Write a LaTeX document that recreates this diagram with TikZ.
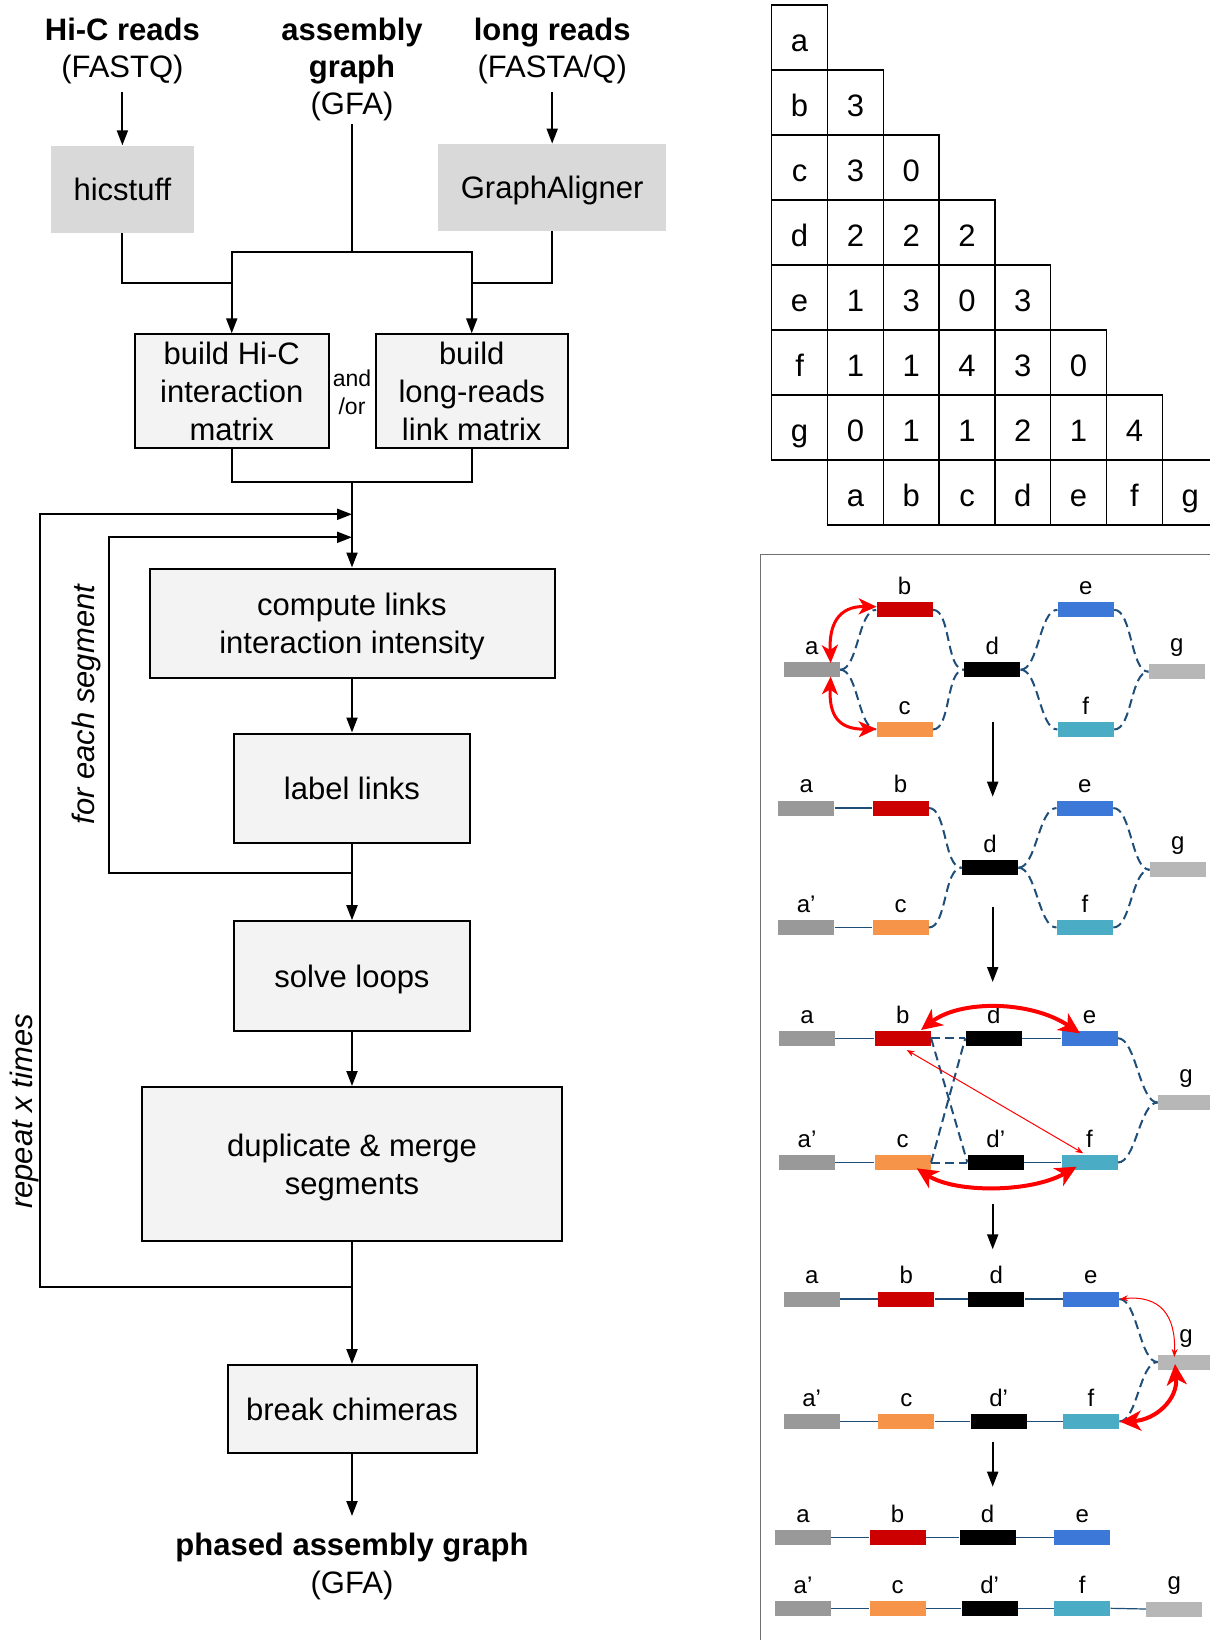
\documentclass[tikz,border=0pt]{standalone}
\usepackage{fontspec}
\setmainfont{Liberation Sans}
\usetikzlibrary{arrows.meta}
\definecolor{boxfill}{HTML}{F3F3F3}
\definecolor{toolfill}{HTML}{D9D9D9}
\definecolor{navy}{HTML}{1F4E79}
\definecolor{sa}{HTML}{999999}
\definecolor{sb}{HTML}{CC0000}
\definecolor{sc}{HTML}{F6954A}
\definecolor{sd}{HTML}{000000}
\definecolor{se}{HTML}{3C78D8}
\definecolor{sf}{HTML}{4BACC6}
\definecolor{sg}{HTML}{B7B7B7}
\definecolor{panelline}{HTML}{707070}
\begin{document}
\begin{tikzpicture}[x=0.5pt,y=-0.5pt,
  font=\fontsize{15.5}{19}\selectfont,
  proc/.style={draw, line width=1pt, fill=boxfill, align=center, inner sep=0pt, text depth=0pt},
  tool/.style={fill=toolfill, align=center, inner sep=0pt, text depth=0pt},
  txt/.style={anchor=base, inner sep=0pt},
  boldtxt/.style={anchor=base, inner sep=0pt, font=\fontsize{15.5}{19}\selectfont\bfseries},
  conn/.style={line width=1pt},
  arr/.style={line width=1pt, -{Triangle[length=7.5pt,width=5.5pt]}},
  cell/.style={draw, line width=0.65pt, minimum width=27.9pt, minimum height=32.5pt, inner sep=0pt, text height=13.5pt, text depth=0pt},
  bar/.style={minimum width=28pt, minimum height=7.5pt, inner sep=0pt, label distance=0pt},
  lab/.style={font=\fontsize{12}{14}\selectfont, inner sep=0pt, yshift=3.3pt},
  dlink/.style={navy, line width=1pt, dash pattern=on 4.5pt off 2.5pt},
  slink/.style={navy, line width=0.6pt},
  rthick/.style={red, line width=2pt, {Stealth[length=10.5pt,width=10pt,inset=3pt]}-{Stealth[length=10.5pt,width=10pt,inset=3pt]}},
  rmid/.style={red, line width=1.5pt, {Stealth[length=9pt,width=8pt,inset=2.5pt]}-{Stealth[length=9pt,width=8pt,inset=2.5pt]}},
  rthin/.style={red, line width=0.5pt, {Stealth[length=4pt,width=3pt]}-{Stealth[length=4pt,width=3pt]}},
]
\useasboundingbox (0,0) rectangle (1210,1640);
\clip (0,0) rectangle (1210,1640);

% ---------------- flowchart ----------------
\node[boldtxt] (hr1) at (122.4,40.7) {Hi-C reads};
\node[txt] (hr2) at (122.4,77.5) {(FASTQ)};
\node[boldtxt] (as1) at (352,40.7) {assembly};
\node[boldtxt] (as2) at (352,77.5) {graph};
\node[txt] (as3) at (352,114.3) {(GFA)};
\node[boldtxt] (lr1) at (552.2,40.7) {long reads};
\node[txt] (lr2) at (552.2,77.5) {(FASTA/Q)};

\node[tool, minimum width=71.15pt, minimum height=43.5pt] (hic) at (122.4,189.2) {hicstuff};
\node[tool, minimum width=114pt, minimum height=43.35pt] (ga) at (552.2,187.35) {GraphAligner};
\node[proc, minimum width=96.75pt, minimum height=57pt] (bhic) at (231.75,391.3) {build Hi-C\\interaction\\matrix};
\node[proc, minimum width=96.25pt, minimum height=57pt] (blr) at (471.75,391.3) {build\\long-reads\\link matrix};
\node[font=\fontsize{11.5}{14}\selectfont, align=center, inner sep=0pt] (andor) at (352,392.5) {and\\/or};

\coordinate (hr0) at (122.4,91.7);
\coordinate (lr0) at (552.2,91.7);
\coordinate (as0) at (352,124);
\coordinate (aj) at (352,252);
\coordinate (hj) at (231.75,283.3);
\coordinate (gj) at (471.75,283.3);
\draw[arr] (hr0) -- (hic.north);
\draw[arr] (lr0) -- (ga.north);
\draw[conn] (as0) -- (aj);
\draw[arr] (aj) -| (bhic.north);
\draw[arr] (aj) -| (blr.north);
\draw[conn] (hic.south) |- (hj);
\draw[conn] (ga.south) |- (gj);

\node[proc, minimum width=202.5pt, minimum height=54.75pt] (comp) at (352,623.25) {compute links\\interaction intensity};
\node[proc, minimum width=118pt, minimum height=54.75pt] (lab) at (352,788.25) {label links};
\node[proc, minimum width=118pt, minimum height=54.8pt] (solve) at (352,976) {solve loops};
\node[proc, minimum width=210pt, minimum height=77pt] (dup) at (352,1164) {duplicate \& merge\\segments};
\node[proc, minimum width=124.5pt, minimum height=43.8pt] (brk) at (352,1408.8) {break chimeras};

\coordinate (mj) at (352,481.5);
\draw[conn] (bhic.south) |- (mj) -| (blr.south);
\draw[arr] (mj) -- (comp.north);
\draw[arr] (comp.south) -- (lab.north);
\coordinate (ij) at (352,873);
\draw[conn] (lab.south) -- (ij);
\draw[arr] (ij) -- (solve.north);
\draw[arr] (solve.south) -- (dup.north);
\coordinate (oj) at (352,1286.6);
\draw[conn] (dup.south) -- (oj);
\draw[arr] (oj) -- (brk.north);
\coordinate (outp) at (352,1516);
\draw[arr] (brk.south) -- (outp);
\node[boldtxt] (ph1) at (352,1555.7) {phased assembly graph};
\node[txt] (ph2) at (352,1593.4) {(GFA)};

\coordinate (ot) at (352,514.3);
\coordinate (it) at (352,537.3);
\coordinate (oc1) at (40,1286.6);
\coordinate (oc2) at (40,514.3);
\coordinate (ic1) at (108.5,873);
\coordinate (ic2) at (108.5,537.3);
\draw[arr] (oj) -- (oc1) -- (oc2) -- (ot);
\draw[arr] (ij) -- (ic1) -- (ic2) -- (it);
\node[rotate=90, font=\fontsize{15.5}{19}\selectfont\itshape, inner sep=0pt] (fes) at (86,704.6) {for each segment};
\node[rotate=90, font=\fontsize{15.5}{19}\selectfont\itshape, inner sep=0pt] (rxt) at (24,1111.5) {repeat x times};

% ---------------- matrix ----------------
\foreach \r/\lst in {0/{a},1/{b,3},2/{c,3,0},3/{d,2,2,2},4/{e,1,3,0,3},5/{f,1,1,4,3,0},6/{g,0,1,1,2,1,4}}{
  \foreach \v [count=\j from 0] in \lst {
    \node[cell] (m\r\j) at ({799.6+55.8*\j},{37.5+65*\r}) {\v};
  }
}
\foreach \v [count=\j from 1] in {a,b,c,d,e,f,g}{
  \node[cell] (n\j) at ({799.6+55.8*\j},492.5) {\v};
}

% ---------------- graph panel ----------------
\coordinate (pb1) at (760.5,1660);
\coordinate (pb2) at (760.5,554.3);
\coordinate (pb3) at (1230,554.3);
\draw[panelline, line width=0.8pt] (pb1) -- (pb2) -- (pb3);

\coordinate (k1a) at (992.7,722.3);  \coordinate (k1b) at (992.7,796.7);
\coordinate (k2a) at (992.7,907);    \coordinate (k2b) at (992.7,982);
\coordinate (k3a) at (992.7,1204);   \coordinate (k3b) at (992.7,1249.3);
\coordinate (k4a) at (992.7,1441.7); \coordinate (k4b) at (992.7,1486.7);
\draw[arr] (k1a) -- (k1b);
\draw[arr] (k2a) -- (k2b);
\draw[arr] (k3a) -- (k3b);
\draw[arr] (k4a) -- (k4b);

% panel 1
\node[bar,fill=sa,label={[lab]above:a}] (p1a) at (811.8,669.7) {};
\node[bar,fill=sb,label={[lab]above:b}] (p1b) at (904.5,609.8) {};
\node[bar,fill=sc,label={[lab]above:c}] (p1c) at (904.5,729.5) {};
\node[bar,fill=sd,label={[lab]above:d}] (p1d) at (992.2,669.7) {};
\node[bar,fill=se,label={[lab]above:e}] (p1e) at (1085.8,609.8) {};
\node[bar,fill=sf,label={[lab]above:f}] (p1f) at (1085.8,729.5) {};
\node[bar,fill=sg,label={[lab]above:g}] (p1g) at (1176.8,671.7) {};
\draw[dlink] (p1a.east) .. controls +(18,0) and +(-18,0) .. (p1b.west);
\draw[dlink] (p1a.east) .. controls +(18,0) and +(-18,0) .. (p1c.west);
\draw[dlink] (p1b.east) .. controls +(18,0) and +(-18,0) .. (p1d.west);
\draw[dlink] (p1c.east) .. controls +(18,0) and +(-18,0) .. (p1d.west);
\draw[dlink] (p1d.east) .. controls +(18,0) and +(-18,0) .. (p1e.west);
\draw[dlink] (p1d.east) .. controls +(18,0) and +(-18,0) .. (p1f.west);
\draw[dlink] (p1e.east) .. controls +(18,0) and +(-18,0) .. (p1g.west);
\draw[dlink] (p1f.east) .. controls +(18,0) and +(-18,0) .. (p1g.west);
\coordinate (r1a) at (830.7,663);
\coordinate (r1b) at (876.7,606.7);
\coordinate (r1c) at (830.7,676.5);
\coordinate (r1d) at (876.7,729);
\draw[rmid] (r1a) .. controls (829,625) and (838,606) .. (r1b);
\draw[rmid] (r1c) .. controls (829,715) and (838,729.5) .. (r1d);

% panel 2
\node[bar,fill=sa,label={[lab]above:a}] (p2a) at (806.2,808) {};
\node[bar,fill=sb,label={[lab]above:b}] (p2b) at (900.5,808) {};
\node[bar,fill=sd,label={[lab]above:d}] (p2d) at (990,867.7) {};
\node[bar,fill=se,label={[lab]above:e}] (p2e) at (1084.9,808) {};
\node[bar,fill=sg,label={[lab]above:g}] (p2g) at (1177.9,869.7) {};
\node[bar,fill=sa,label={[lab]above:a’}] (p2a2) at (806.2,927.5) {};
\node[bar,fill=sc,label={[lab]above:c}] (p2c) at (900.5,927.5) {};
\node[bar,fill=sf,label={[lab]above:f}] (p2f) at (1084.9,927.5) {};
\draw[slink] (p2a.east) -- (p2b.west);
\draw[slink] (p2a2.east) -- (p2c.west);
\draw[dlink] (p2b.east) .. controls +(18,0) and +(-18,0) .. (p2d.west);
\draw[dlink] (p2c.east) .. controls +(18,0) and +(-18,0) .. (p2d.west);
\draw[dlink] (p2d.east) .. controls +(18,0) and +(-18,0) .. (p2e.west);
\draw[dlink] (p2d.east) .. controls +(18,0) and +(-18,0) .. (p2f.west);
\draw[dlink] (p2e.east) .. controls +(18,0) and +(-18,0) .. (p2g.west);
\draw[dlink] (p2f.east) .. controls +(18,0) and +(-18,0) .. (p2g.west);

% panel 3
\node[bar,fill=sa,label={[lab]above:a}] (p3a) at (807,1038.2) {};
\node[bar,fill=sb,label={[lab]above:b}] (p3b) at (902.7,1038.2) {};
\node[bar,fill=sd,label={[lab]above:d}] (p3d) at (993.7,1038.2) {};
\node[bar,fill=se,label={[lab]above:e}] (p3e) at (1089.5,1038.2) {};
\node[bar,fill=sg,label={[lab]above:g}] (p3g) at (1186,1102.5) {};
\node[bar,fill=sa,label={[lab]above:a’}] (p3a2) at (807,1162.5) {};
\node[bar,fill=sc,label={[lab]above:c}] (p3c) at (902.7,1162.5) {};
\node[bar,fill=sd,label={[lab]above:d’}] (p3d2) at (995.8,1162.5) {};
\node[bar,fill=sf,label={[lab]above:f}] (p3f) at (1089.5,1162.5) {};
\draw[slink] (p3a.east) -- (p3b.west);
\draw[slink] (p3d.east) -- (p3e.west);
\draw[slink] (p3a2.east) -- (p3c.west);
\draw[slink] (p3d2.east) -- (p3f.west);
\draw[dlink] (p3b.east) -- (p3d.west);
\draw[dlink] (p3b.east) -- (p3d2.west);
\draw[dlink] (p3c.east) -- (p3d.west);
\draw[dlink] (p3c.east) -- (p3d2.west);
\draw[dlink] (p3e.east) .. controls +(18,0) and +(-18,0) .. (p3g.west);
\draw[dlink] (p3f.east) .. controls +(18,0) and +(-18,0) .. (p3g.west);
\coordinate (r3a) at (921,1030);
\coordinate (r3b) at (1080,1033.3);
\coordinate (r3c) at (916.7,1168.3);
\coordinate (r3d) at (1076.7,1166.7);
\coordinate (r3e) at (906.7,1050);
\coordinate (r3f) at (1083.3,1153.3);
\draw[rthick] (r3a) .. controls (960,1000) and (1030,1000) .. (r3b);
\draw[rthick] (r3c) .. controls (955,1193) and (1030,1193) .. (r3d);
\draw[rthin] (r3e) -- (r3f);

% panel 4
\node[bar,fill=sa,label={[lab]above:a}] (p4a) at (811.7,1299) {};
\node[bar,fill=sb,label={[lab]above:b}] (p4b) at (906.3,1299) {};
\node[bar,fill=sd,label={[lab]above:d}] (p4d) at (996.3,1299) {};
\node[bar,fill=se,label={[lab]above:e}] (p4e) at (1090.9,1299) {};
\node[bar,fill=sg,label={[lab]above:g}] (p4g) at (1186,1362) {};
\node[bar,fill=sa,label={[lab]above:a’}] (p4a2) at (811.7,1421.5) {};
\node[bar,fill=sc,label={[lab]above:c}] (p4c) at (906.3,1421.5) {};
\node[bar,fill=sd,label={[lab]above:d’}] (p4d2) at (998.7,1421.5) {};
\node[bar,fill=sf,label={[lab]above:f}] (p4f) at (1090.9,1421.5) {};
\draw[slink] (p4a.east) -- (p4b.west);
\draw[slink] (p4b.east) -- (p4d.west);
\draw[slink] (p4d.east) -- (p4e.west);
\draw[slink] (p4a2.east) -- (p4c.west);
\draw[slink] (p4c.east) -- (p4d2.west);
\draw[slink] (p4d2.east) -- (p4f.west);
\draw[dlink] (p4e.east) .. controls +(18,0) and +(-18,0) .. (p4g.west);
\draw[dlink] (p4f.east) .. controls +(18,0) and +(-18,0) .. (p4g.west);
\coordinate (r4a) at (1120,1299);
\coordinate (r4b) at (1174.3,1357);
\coordinate (r4c) at (1120,1421.7);
\coordinate (r4d) at (1175,1364);
\draw[rthin] (r4a) .. controls (1160,1295) and (1176,1315) .. (r4b);
\draw[rthick] (r4c) .. controls (1155,1420) and (1178,1400) .. (r4d);

% panel 5
\node[bar,fill=sa,label={[lab]above:a}] (p5a) at (803,1537.7) {};
\node[bar,fill=sb,label={[lab]above:b}] (p5b) at (897.5,1537.7) {};
\node[bar,fill=sd,label={[lab]above:d}] (p5d) at (987.5,1537.7) {};
\node[bar,fill=se,label={[lab]above:e}] (p5e) at (1082.2,1537.7) {};
\node[bar,fill=sa,label={[lab]above:a’}] (p5a2) at (803,1608.3) {};
\node[bar,fill=sc,label={[lab]above:c}] (p5c) at (897.5,1608.3) {};
\node[bar,fill=sd,label={[lab]above:d’}] (p5d2) at (989.7,1608.3) {};
\node[bar,fill=sf,label={[lab]above:f}] (p5f) at (1082.2,1608.3) {};
\node[bar,fill=sg,label={[lab]above:g}] (p5g) at (1174.2,1609) {};
\draw[slink] (p5a.east) -- (p5b.west);
\draw[slink] (p5b.east) -- (p5d.west);
\draw[slink] (p5d.east) -- (p5e.west);
\draw[slink] (p5a2.east) -- (p5c.west);
\draw[slink] (p5c.east) -- (p5d2.west);
\draw[slink] (p5d2.east) -- (p5f.west);
\draw[slink] (p5f.east) -- (p5g.west);
\end{tikzpicture}
\end{document}
